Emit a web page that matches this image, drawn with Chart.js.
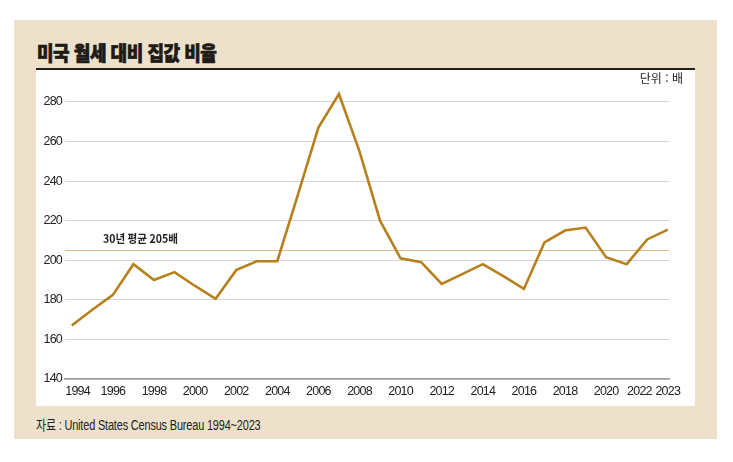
<!DOCTYPE html>
<html lang="ko">
<head>
<meta charset="utf-8">
<title>미국 월세 대비 집값 비율</title>
<script src="https://cdn.jsdelivr.net/npm/chart.js@4.4.1/dist/chart.umd.min.js"></script>
<style>
  html, body { margin: 0; padding: 0; background: #fff; }
  body { width: 733px; height: 462px; position: relative; overflow: hidden; }
  .panel { position: absolute; left: 14px; top: 20px; width: 703px; height: 419px; background: #ede1cb; }
  .title {
    position: absolute; left: 37px; top: 42px; white-space: nowrap;
    font-family: "Noto Sans CJK KR", sans-serif; font-weight: 900; font-size: 20px; line-height: 22px;
    color: #1e1a16; transform: scaleX(0.9); transform-origin: left top; letter-spacing: -0.5px;
    -webkit-text-stroke: 0.7px #1e1a16;
  }
  .rule { position: absolute; left: 36px; top: 68px; width: 659px; height: 2px; background: #231f1a; }
  .card { position: absolute; left: 36px; top: 70px; width: 659px; height: 336px; background: #fff; }
  .unit {
    position: absolute; right: 12px; top: 1px; font-family: "Noto Sans CJK KR", sans-serif;
    font-size: 12px; color: #222; line-height: 14px;
  }
  .source {
    position: absolute; left: 36px; top: 414px; white-space: nowrap;
    font-family: "Liberation Sans", "Noto Sans CJK KR", sans-serif; font-size: 14px; color: #222;
    transform: scaleX(0.78); transform-origin: left top; letter-spacing: -0.2px;
  }
  #chart { position: absolute; left: 0; top: 0; }
</style>
</head>
<body>
<div class="panel"></div>
<div class="title">미국 월세 대비 집값 비율</div>
<div class="rule"></div>
<div class="card">
  <canvas id="chart" width="659" height="336"></canvas>
  <div class="unit">단위 : 배</div>
</div>
<div class="source">자료 : United States Census Bureau 1994~2023</div>

<script>
// 연도별 월세 대비 집값 비율 (배)
const years = [
  1994, 1995, 1996, 1997, 1998, 1999, 2000, 2001, 2002, 2003,
  2004, 2005, 2006, 2007, 2008, 2009, 2010, 2011, 2012, 2013,
  2014, 2015, 2016, 2017, 2018, 2019, 2020, 2021, 2022, 2023
];
const ratios = [
  167, 175, 182.5, 198, 190, 194, 187, 180.5, 195, 199.5,
  199.5, 233, 267, 284, 255, 220, 201, 199, 188, 193,
  198, 192, 185.5, 209, 215, 216.5, 201.5, 198, 210.5, 215.5
];
const xTickYears = [1994, 1996, 1998, 2000, 2002, 2004, 2006, 2008, 2010, 2012, 2014, 2016, 2018, 2020, 2022, 2023];
const yTicks = [140, 160, 180, 200, 220, 240, 260, 280];
const averageValue = 205;
const averageLabel = '30년 평균 205배';

const tickFont = { family: '"Liberation Sans", Arial, sans-serif', size: 12.5 };
// 끝쪽 라벨이 겹치지 않도록 살짝 이동 (연 단위)
const labelNudge = { 1994: 0.28, 2022: -0.38 };

// 눈금 글자를 좁게 (참고 그림의 압축 서체 느낌)
const narrowText = {
  id: 'narrowText',
  beforeDraw(chart) { chart.ctx.letterSpacing = '-0.8px'; },
  afterDraw(chart) { chart.ctx.letterSpacing = '0px'; }
};

const averageLine = {
  id: 'averageLine',
  beforeDatasetsDraw(chart) {
    const { ctx, chartArea, scales } = chart;
    const y = Math.round(scales.y.getPixelForValue(averageValue)) + 0.5;
    ctx.save();
    ctx.letterSpacing = '0px';
    ctx.strokeStyle = '#e2be86';
    ctx.lineWidth = 1;
    ctx.beginPath();
    ctx.moveTo(chartArea.left, y);
    ctx.lineTo(chartArea.right, y);
    ctx.stroke();
    ctx.fillStyle = '#222';
    ctx.font = 'bold 11.5px "Noto Sans CJK KR", sans-serif';
    ctx.textBaseline = 'middle';
    ctx.translate(chartArea.left + 38, y - 12);
    ctx.scale(0.92, 1);
    ctx.fillText(averageLabel, 0, 0);
    ctx.restore();
  }
};

function draw() {
  const ctx = document.getElementById('chart').getContext('2d');
  new Chart(ctx, {
    type: 'line',
    data: {
      datasets: [{
        data: years.map((yr, i) => ({ x: yr, y: ratios[i] })),
        borderColor: '#b7801c',
        borderWidth: 2.6,
        pointRadius: 0,
        tension: 0,
        fill: false
      }]
    },
    options: {
      responsive: false,
      animation: false,
      events: [],
      layout: { padding: { top: 20, right: 26, left: 0, bottom: 0 } },
      plugins: { legend: { display: false }, tooltip: { enabled: false } },
      scales: {
        x: {
          type: 'linear',
          min: 1993.67,
          max: 2023.06,
          grid: { display: false, drawTicks: false },
          border: { display: true, color: '#9a9a9a', width: 1.5 },
          afterBuildTicks: scale => {
            scale.ticks = xTickYears.map(v => ({ value: v + (labelNudge[v] || 0) }));
          },
          afterFit: scale => { scale.height = 27; },
          ticks: {
            autoSkip: false,
            maxRotation: 0,
            padding: 5,
            color: '#222',
            font: tickFont,
            callback: v => String(Math.round(v))
          }
        },
        y: {
          min: 140,
          max: 286,
          grid: { color: '#d4d4d4', lineWidth: 1, drawTicks: false },
          border: { display: false },
          afterBuildTicks: scale => {
            scale.ticks = yTicks.map(v => ({ value: v }));
          },
          afterFit: scale => { scale.width = 29; },
          ticks: {
            padding: 3,
            color: '#222',
            font: tickFont
          }
        }
      }
    },
    plugins: [narrowText, averageLine]
  });
}

Promise.all([
  document.fonts.load('13px "Liberation Sans"'),
  document.fonts.load('bold 12px "Noto Sans CJK KR"')
]).then(draw, draw);
</script>
</body>
</html>
